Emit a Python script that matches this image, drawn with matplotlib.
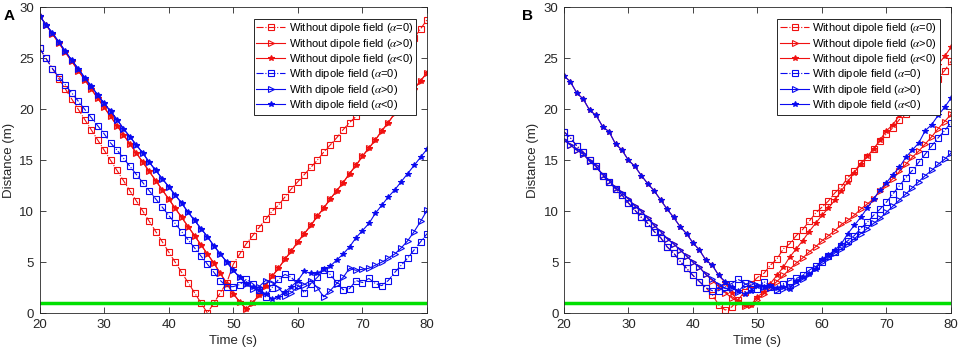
import numpy as np
import matplotlib
matplotlib.use("Agg")
import matplotlib.pyplot as plt

plt.rcParams["font.family"] = ["Liberation Sans", "DejaVu Sans"]
plt.rcParams["mathtext.fontset"] = "stix"

time = np.arange(20, 81)
safe_dist = 1.0

# Panel A
a_red0 = [26, 25, 24, 23, 22, 21, 20, 19, 18, 17, 16, 15, 14, 13, 12, 11, 10, 9, 8, 7,
          6, 5, 4, 3, 2, 1, 0,
          1.0, 2.0, 3.0, 4.8, 5.8, 6.8, 7.6, 8.4, 9.2, 10.0, 10.6, 11.4, 12.2, 12.9, 13.6,
          14.3, 15.0, 15.8, 16.5, 17.2, 18.0, 18.7, 19.3, 20.0, 20.9, 21.8, 22.6, 23.5,
          24.4, 25.3, 26.2, 27.0, 27.9, 28.8]
a_redp = [29.2, 28.3, 27.4, 26.5, 25.6, 24.7, 23.8, 22.9, 22.0, 21.1, 20.2, 19.3, 18.4,
          17.5, 16.6, 15.7, 14.8, 13.9, 13.0, 12.1, 11.2, 10.3, 9.4, 8.5, 7.6, 6.7, 5.8,
          4.9, 3.9, 2.9, 1.9, 1.1, 0.4,
          1.0, 1.8, 2.7, 3.6, 4.4, 5.3, 6.1, 7.0, 7.8, 8.6, 9.5, 10.3, 11.2, 12.0, 12.8,
          13.7, 14.5, 15.4, 16.2, 17.0, 17.9, 18.7, 19.6, 20.4, 21.2, 22.0, 22.8, 23.6]
a_redm = list(a_redp)
a_blue0 = [26.0, 25.0, 24.0, 23.2, 22.4, 21.6, 20.8, 20.0, 19.2, 18.4, 17.6, 16.7, 16.0,
           15.2, 14.4, 13.6, 12.8, 12.0, 11.2, 10.4, 9.6, 8.8, 8.0, 7.2, 6.4, 5.6, 4.8,
           4.0, 3.2,
           2.6, 2.6, 2.8, 3.3, 2.9, 2.3, 1.6, 2.5, 3.3, 3.8, 3.5, 2.8, 2.0, 2.9, 3.5, 4.2,
           3.8, 3.0, 2.3, 2.4, 3.2, 3.0, 3.4, 2.9, 2.7, 3.2, 4.0, 4.7, 5.4, 6.2, 7.0, 7.8]
a_bluep = [29.2, 28.3, 27.5, 26.6, 25.7, 24.8, 24.0, 23.1, 22.3, 21.4, 20.6, 19.8, 19.0,
           18.1, 17.3, 16.5, 15.7, 14.8, 14.0, 13.2, 12.4, 11.6, 10.8, 9.9, 9.1, 8.3,
           7.5, 6.6, 5.8, 5.0, 4.2, 3.5, 2.9,
           2.4, 2.6, 3.2, 3.0, 2.5, 1.7, 2.0, 2.6, 2.8, 3.2, 2.5, 1.6, 2.2, 2.9, 3.5, 4.4,
           4.2, 4.3, 4.4, 4.7, 5.0, 5.4, 5.8, 6.4, 7.1, 8.0, 9.0, 10.1]
a_bluem = [29.2, 28.3, 27.5, 26.6, 25.7, 24.8, 24.0, 23.1, 22.3, 21.4, 20.6, 19.8, 19.0,
           18.1, 17.3, 16.5, 15.7, 14.8, 14.0, 13.2, 12.4, 11.6, 10.8, 9.9, 9.1, 8.3,
           7.5, 6.6, 5.8, 5.0, 4.2, 3.5, 2.9, 2.6, 2.3, 1.9, 1.4,
           1.6, 2.1, 2.6, 3.2, 4.1, 3.9, 3.9, 4.3, 4.6, 5.2, 5.8, 6.5, 7.4, 8.1, 8.8, 9.8,
           10.6, 11.4, 12.1, 12.9, 13.7, 14.5, 15.3, 16.1]

# Panel B
b_red0 = [17.8, 17.2, 16.4, 15.8, 15.0, 14.4, 13.5, 12.9, 12.2, 11.6, 10.8, 10.1, 9.4,
          8.8, 8.0, 7.4, 6.5, 5.9, 5.1, 4.4, 3.7, 3.1,
          2.5, 1.8, 0.8, 0.3, 0.6, 1.3, 2.1, 2.9, 3.5, 3.9, 4.7, 5.3, 6.3, 6.8, 7.6, 8.2,
          9.0, 9.8, 10.4, 11.0, 11.8, 12.4, 13.3, 13.9, 14.7, 15.3, 16.1, 16.9, 17.6,
          18.2, 19.0, 19.5, 20.2, 20.9, 21.6, 22.3, 23.0, 23.8, 24.7]
b_redp = [17.0, 16.5, 16.0, 15.6, 14.9, 14.4, 13.6, 13.0, 12.3, 11.8, 11.2, 10.5, 10.0,
          9.3, 8.6, 8.0, 7.3, 6.8, 6.2, 5.6, 5.0, 4.5, 3.8,
          3.2, 2.6, 2.0, 1.5, 1.1, 0.7, 0.8, 1.3, 1.9, 2.5, 3.1, 3.7, 4.3, 4.9, 5.4, 6.0,
          6.5, 7.1, 7.6, 8.1, 8.7, 9.1, 9.6, 10.2, 10.7, 11.2, 12.0, 12.6, 13.2, 13.9,
          14.6, 15.3, 15.9, 16.6, 17.3, 18.1, 18.8, 19.5]
b_redm = [23.3, 22.7, 21.6, 21.0, 19.9, 19.4, 18.3, 17.8, 16.6, 16.0, 15.0, 14.4, 13.5,
          12.7, 12.0, 11.1, 10.2, 9.4, 8.5, 7.8, 6.9, 6.2, 5.2, 4.7, 3.7,
          3.0, 2.0, 1.2, 0.8, 0.8, 1.6, 2.1, 2.9, 3.7, 4.5, 5.5, 6.3, 7.1, 8.0, 8.8, 9.6,
          10.3, 11.1, 12.0, 12.9, 13.8, 14.6, 15.4, 16.1, 17.0, 17.9, 18.5, 19.4, 20.3,
          21.1, 21.9, 22.8, 23.6, 24.4, 25.2, 26.1]
b_blue0 = [17.8, 17.2, 16.4, 15.8, 15.0, 14.4, 13.5, 12.9, 12.2, 11.6, 10.8, 10.1, 9.4,
           8.8, 8.0, 7.4, 6.5, 5.9, 5.1, 4.4, 3.7, 3.1, 2.5, 2.2, 2.2, 2.6, 2.9, 3.3, 3.0,
           2.4, 2.4, 3.1, 2.6, 2.3, 2.9, 3.2, 3.4, 3.7, 4.2, 4.6, 5.0, 5.6, 6.0, 6.6, 7.1,
           7.6, 8.3, 8.9, 9.6, 10.2, 10.9, 11.7, 12.5, 13.3, 14.0, 14.8, 15.6, 16.4, 17.2,
           17.9, 18.7]
b_bluep = [17.0, 16.5, 16.0, 15.6, 14.9, 14.4, 13.6, 13.0, 12.3, 11.8, 11.2, 10.5, 10.0,
           9.3, 8.6, 8.0, 7.3, 6.8, 6.2, 5.6, 5.0, 4.5, 3.8, 3.3, 2.8, 2.4, 2.5, 2.1, 2.8,
           3.0, 2.8, 2.6, 2.5, 2.3, 2.4, 2.6, 2.9, 3.3, 3.8, 4.4, 5.0, 5.4, 5.9, 6.3, 6.8,
           7.3, 7.8, 8.3, 8.8, 9.3, 9.9, 10.5, 11.1, 11.7, 12.3, 12.9, 13.5, 14.0, 14.6,
           15.1, 15.7]
b_bluem = [23.3, 22.7, 21.6, 21.0, 19.9, 19.4, 18.3, 17.8, 16.6, 16.0, 15.0, 14.4, 13.5,
           12.7, 12.0, 11.1, 10.2, 9.4, 8.5, 7.8, 6.9, 6.2, 5.2, 4.7, 3.7, 3.1, 2.6, 2.2,
           1.9, 2.2, 2.7, 2.6, 2.7, 2.5, 2.6, 2.4, 3.2, 3.5, 3.8, 4.3, 5.3, 5.7, 6.2, 6.8,
           7.8, 8.6, 9.4, 10.3, 11.2, 12.1, 12.8, 13.6, 14.3, 15.3, 16.0, 16.7, 17.9, 18.5,
           19.4, 20.2, 21.1]

labels = [r"Without dipole field ($\alpha$=0)",
          r"Without dipole field ($\alpha$>0)",
          r"Without dipole field ($\alpha$<0)",
          r"With dipole field ($\alpha$=0)",
          r"With dipole field ($\alpha$>0)",
          r"With dipole field ($\alpha$<0)"]
RED = "#f01010"
BLUE = "#0a0af0"
styles = [(RED, "-.", "s"), (RED, "-", ">"), (RED, "-", "*"),
          (BLUE, "-.", "s"), (BLUE, "-", ">"), (BLUE, "-", "*")]

fig = plt.figure(figsize=(9.64, 3.55), dpi=100)
ax_a = fig.add_axes([0.041, 0.118, 0.402, 0.861])
ax_b = fig.add_axes([0.585, 0.118, 0.4015, 0.861])


def draw(ax, series, letter, lx):
    for y, lab, (c, ls, m) in zip(series, labels, styles):
        ms = 4 if m == "*" else 4
        ax.plot(time, y, color=c, ls=ls, lw=0.8, marker=m, ms=ms,
                mfc="none" if m != "*" else c, mec=c, mew=0.8, label=lab)
    ax.plot([time[0], time[-1]], [safe_dist, safe_dist], color="#00e000", lw=2.5)
    ax.set_xlim(20, 80)
    ax.set_ylim(0, 30)
    ax.set_xticks(range(20, 81, 10))
    ax.set_yticks(range(0, 31, 5))
    ax.tick_params(direction="in", top=True, right=True, length=4, width=0.6,
                   labelsize=9.5, colors="#262626", pad=4)
    for s in ax.spines.values():
        s.set_color("#262626")
        s.set_linewidth(0.6)
    ax.set_xlabel("Time (s)", fontsize=9.5, color="#262626", labelpad=3)
    ax.set_ylabel("Distance (m)", fontsize=9.5, color="#262626", labelpad=3)
    leg = ax.legend(loc="upper right", fontsize=8, handlelength=2.6, handletextpad=0.3,
                    borderpad=0.25, labelspacing=0.12, borderaxespad=1.0,
                    fancybox=False, framealpha=1)
    leg.get_frame().set_edgecolor("#262626")
    leg.get_frame().set_linewidth(0.7)
    fig.text(lx, 0.975, letter, fontsize=11, fontweight="bold", va="top")


draw(ax_a, [a_red0, a_redp, a_redm, a_blue0, a_bluep, a_bluem], "A", 0.004)
draw(ax_b, [b_red0, b_redp, b_redm, b_blue0, b_bluep, b_bluem], "B", 0.541)

fig.savefig("out.png", dpi=100)
